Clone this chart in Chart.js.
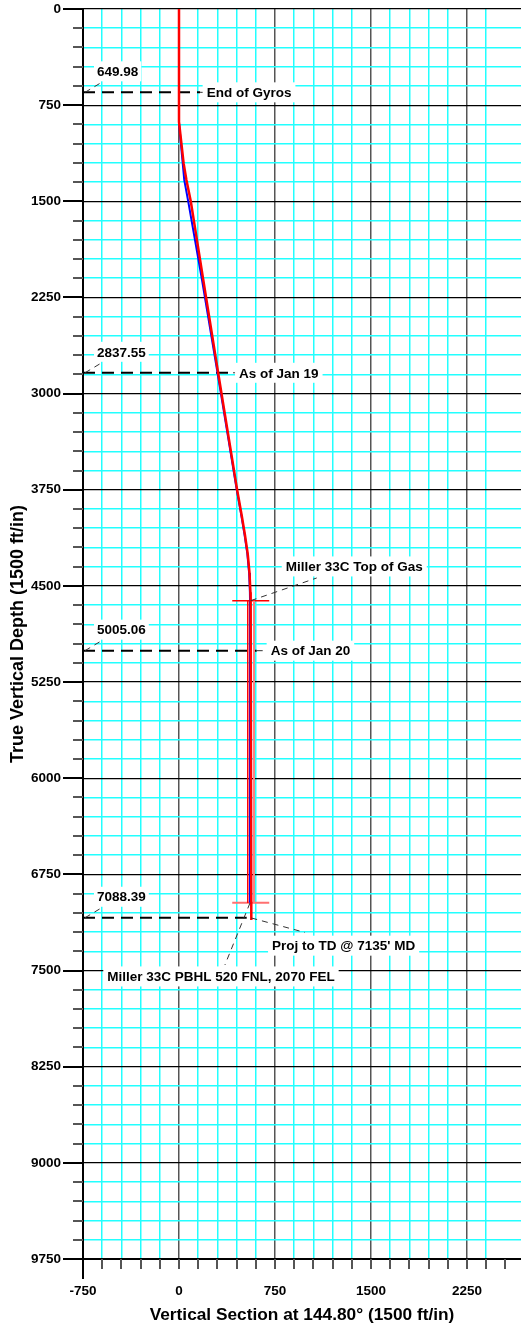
<!DOCTYPE html>
<html>
<head>
<meta charset="utf-8">
<script src="https://cdn.jsdelivr.net/npm/chart.js@4"></script>
<style>
  html, body { margin: 0; padding: 0; background: #fff; }
  #wrap { width: 521px; height: 1327px; }
</style>
</head>
<body>
<div id="wrap"><canvas id="chart" width="521" height="1327"></canvas></div>
<script>
// survey (red): vertical section vs TVD, ft
const surveyVs  = [0, 0, 0, 36, 58, 92, 190, 307, 455, 490, 515, 537, 551, 558, 560, 565];
const surveyTvd = [0, 650, 880, 1203, 1333, 1500, 2115, 2844, 3755, 3950, 4100, 4250, 4400, 4550, 4615, 7105];
// plan (blue)
const planVs  = [0, 0, 41, 72, 180, 302, 452, 487, 512, 534, 548, 554, 555, 555];
const planTvd = [0, 888, 1333, 1500, 2115, 2844, 3755, 3950, 4100, 4250, 4400, 4550, 4615, 6972];

// target (Top of Gas -> PBHL)
const targetTvd = [4615, 6972];
const targetSideVs = [537, 586];
const targetCrossVs = [416, 705];

// depth markers
const markTvd   = [649.98, 2837.55, 5005.06, 7088.39];
const markText  = ['649.98', '2837.55', '5005.06', '7088.39'];
const markEndVs = [165, 422, 607, 529];

// callouts (label start, ft)
const noteText = ['End of Gyros', 'As of Jan 19', 'As of Jan 20', 'Miller 33C Top of Gas',
                  "Proj to TD @ 7135' MD", 'Miller 33C PBHL 520 FNL, 2070 FEL'];
const noteVs  = [216, 469, 716, 834, 727, -560];
const noteTvd = [649.98, 2837.55, 5005.06, 4348, 7306, 7546];
// leader lines for the last three callouts
const leadFromVs  = [null, null, null, 560, 565, 555];
const leadFromTvd = [null, null, null, 4615, 7090, 6972];
const leadToVs    = [null, null, null, 1076, 984, 359];
const leadToTvd   = [null, null, null, 4438, 7203, 7456];

// axes
const vsMin = -750, vsMax = 2672, tvdMax = 9750;
const majorStep = 750, minorStep = 150;

const FONT = '"Liberation Sans", Arial, sans-serif';
Chart.defaults.font.family = FONT;
Chart.defaults.color = '#000';

const pts = (xs, ys) => xs.map((v, i) => ({ x: v, y: ys[i] }));
const isMajor = v => Math.abs(v % majorStep) < 1e-6;
const isMinor = v => Math.abs(v % minorStep) < 1e-6;

const datasets = [
  { data: pts(surveyVs, surveyTvd), borderColor: '#ff0000', borderWidth: 2.5 },
  { data: pts(planVs, planTvd), borderColor: '#0000ff', borderWidth: 2 },
  { data: pts([targetSideVs[0], targetSideVs[0]], targetTvd), borderColor: '#ff0000', borderWidth: 1 },
  { data: pts([targetSideVs[1], targetSideVs[1]], targetTvd), borderColor: '#ff8080', borderWidth: 2 },
  { data: pts(targetCrossVs, [targetTvd[0], targetTvd[0]]), borderColor: '#ff0000', borderWidth: 1.5 },
  { data: pts(targetCrossVs, [targetTvd[1], targetTvd[1]]), borderColor: '#ff7070', borderWidth: 2 }
];
markTvd.forEach((t, i) => {
  datasets.push({ data: pts([vsMin, markEndVs[i]], [t, t]), borderColor: '#000', borderWidth: 2, borderDash: [12, 7] });
});
datasets.forEach(d => { d.showLine = true; d.pointRadius = 0; d.fill = false; });

function boxText(ctx, text, px, py, padX) {
  const w = ctx.measureText(text).width;
  ctx.fillStyle = '#fff';
  ctx.fillRect(px - padX, py - 10, w + padX * 2, 20);
  ctx.fillStyle = '#000';
  ctx.fillText(text, px, py + 1);
}

function thinDash(ctx, x1, y1, x2, y2) {
  ctx.save();
  ctx.strokeStyle = '#333';
  ctx.lineWidth = 1;
  ctx.setLineDash([6, 5]);
  ctx.beginPath(); ctx.moveTo(x1, y1); ctx.lineTo(x2, y2); ctx.stroke();
  ctx.restore();
}

const decor = {
  id: 'decor',
  afterDraw(chart) {
    const { ctx, scales: { x, y } } = chart;
    ctx.save();
    // tick marks
    ctx.lineWidth = 2;
    for (let v = 0; v <= tvdMax; v += minorStep) {
      const py = Math.round(y.getPixelForValue(v));
      ctx.strokeStyle = isMajor(v) ? '#000' : '#555';
      ctx.beginPath();
      ctx.moveTo(x.left - (isMajor(v) ? 20 : 10), py);
      ctx.lineTo(x.left, py);
      ctx.stroke();
    }
    for (let v = vsMin + minorStep; v <= vsMax; v += minorStep) {
      const px = Math.round(x.getPixelForValue(v));
      ctx.strokeStyle = '#555';
      ctx.beginPath(); ctx.moveTo(px, y.bottom); ctx.lineTo(px, y.bottom + 10); ctx.stroke();
    }
    ctx.strokeStyle = '#000';
    ctx.beginPath(); ctx.moveTo(x.left, y.bottom); ctx.lineTo(x.left, y.bottom + 20); ctx.stroke();

    ctx.font = 'bold 13.5px ' + FONT;
    ctx.textBaseline = 'middle';
    ctx.textAlign = 'left';

    // depth labels
    markTvd.forEach((t, i) => {
      const py = y.getPixelForValue(t);
      thinDash(ctx, x.left + 2, py, x.left + 17, py - 9);
      boxText(ctx, markText[i], x.left + 14, py - 21, 3);
    });

    // callouts
    noteText.forEach((s, i) => {
      const px = x.getPixelForValue(noteVs[i]);
      const py = y.getPixelForValue(noteTvd[i]);
      if (i < 3) {
        thinDash(ctx, x.getPixelForValue(markEndVs[i]), py, px - 2, py);
      } else {
        thinDash(ctx, x.getPixelForValue(leadFromVs[i]), y.getPixelForValue(leadFromTvd[i]),
                 x.getPixelForValue(leadToVs[i]), y.getPixelForValue(leadToTvd[i]));
      }
      boxText(ctx, s, px, py, 4);
    });
    ctx.restore();
  }
};

new Chart(document.getElementById('chart'), {
  type: 'scatter',
  data: { datasets },
  options: {
    responsive: false,
    animation: false,
    events: [],
    layout: { padding: { top: 9, left: 0, right: 0, bottom: 0 } },
    plugins: { legend: { display: false }, tooltip: { enabled: false } },
    scales: {
      x: {
        type: 'linear',
        min: vsMin, max: vsMax,
        afterFit: s => { s.height = 68; s.paddingLeft = 0; s.paddingRight = 0; },
        border: { display: true, color: '#000', width: 2 },
        grid: {
          drawTicks: false,
          color: c => isMajor(c.tick.value) ? '#555' : (isMinor(c.tick.value) ? '#22ffff' : 'rgba(0,0,0,0)'),
          lineWidth: 1.5
        },
        ticks: {
          stepSize: minorStep, autoSkip: false, maxRotation: 0, padding: 24,
          font: { size: 13.5, weight: 'bold' },
          callback: v => isMajor(v) ? String(v) : ''
        },
        title: {
          display: true, text: 'Vertical Section at 144.80° (1500 ft/in)',
          font: { size: 17.3, weight: 'bold' }, padding: { top: 0, bottom: 1 }
        }
      },
      y: {
        type: 'linear',
        reverse: true,
        min: 0, max: tvdMax,
        afterFit: s => { s.width = 83; s.paddingTop = 0; s.paddingBottom = 0; },
        border: { display: true, color: '#000', width: 2 },
        grid: {
          drawTicks: false,
          color: c => isMajor(c.tick.value) ? '#000' : '#22ffff',
          lineWidth: c => isMajor(c.tick.value) ? 1.2 : 1.5
        },
        ticks: {
          stepSize: minorStep, autoSkip: false, padding: 22,
          font: { size: 13.5, weight: 'bold' },
          callback: v => isMajor(v) ? String(v) : ''
        },
        title: {
          display: true, text: 'True Vertical Depth (1500 ft/in)',
          font: { size: 18, weight: 'bold' }, padding: { top: 7, bottom: 0 }
        }
      }
    }
  },
  plugins: [decor]
});
</script>
</body>
</html>
